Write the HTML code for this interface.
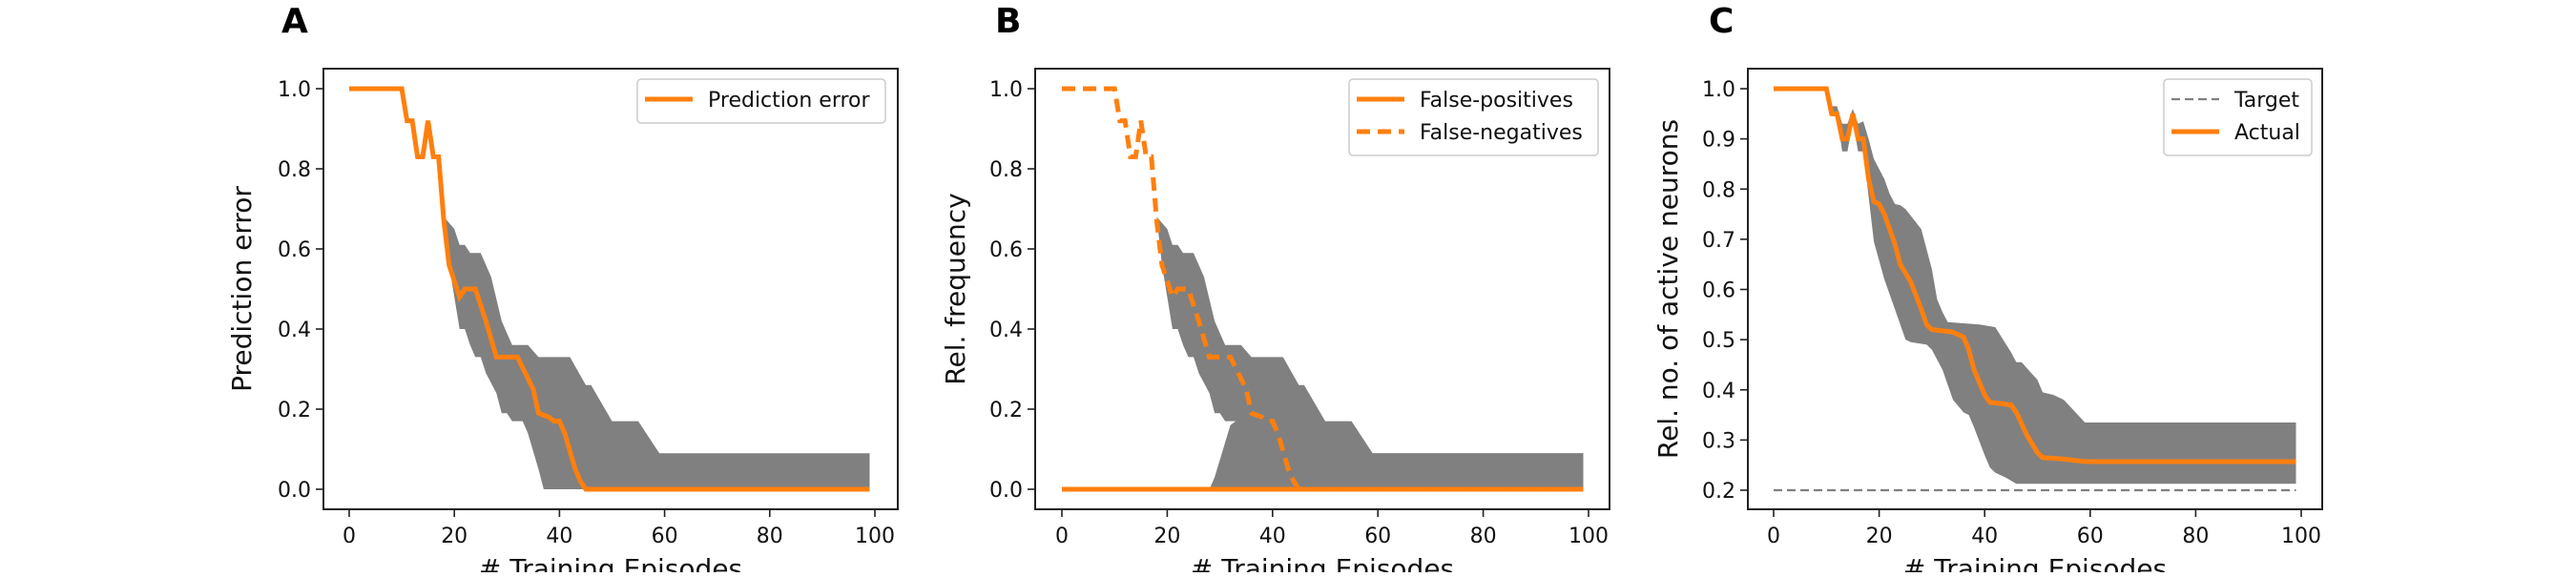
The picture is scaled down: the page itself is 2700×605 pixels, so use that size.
<!DOCTYPE html>
<html><head><meta charset="utf-8"><style>
html,body{margin:0;padding:0;background:#fff;}
svg text{font-family:"DejaVu Sans","Liberation Sans",sans-serif;}
</style></head><body>
<svg id="fig" width="2700" height="600" viewBox="0 0 2700 600" xmlns="http://www.w3.org/2000/svg"></svg>
<script>
// ---------- data ----------
const xTicks = [0, 20, 40, 60, 80, 100];
const yTicksAB = [0.0, 0.2, 0.4, 0.6, 0.8, 1.0];
const yTicksC = [0.2, 0.3, 0.4, 0.5, 0.6, 0.7, 0.8, 0.9, 1.0];

// Panel A: prediction error mean + band
const aMeanX = [0,10,11,12,13,14,15,16,17,18,19,21,22,24,26,28,32,35,36,38,39,40,41,43,44,45,99];
const aMeanY = [1,1,0.92,0.92,0.83,0.83,0.92,0.83,0.83,0.67,0.56,0.48,0.5,0.5,0.42,0.33,0.33,0.25,0.19,0.18,0.17,0.17,0.14,0.05,0.02,0,0];
const aHiX = [17,18,20,21,22,23,25,27,29,31,34,36,42,45,46,50,55,59,99];
const aHiY = [0.85,0.68,0.65,0.61,0.61,0.59,0.59,0.53,0.42,0.36,0.36,0.33,0.33,0.26,0.26,0.17,0.17,0.09,0.09];
const aLoX = [17,18,19,21,22,23,24,25,26,28,29,30,31,33,34,36,37,99];
const aLoY = [0.85,0.68,0.56,0.40,0.40,0.36,0.33,0.33,0.29,0.24,0.19,0.19,0.17,0.17,0.14,0.05,0,0];

// Panel B: false-positives (flat) + false-negatives
const bFpX = [0,99];
const bFpY = [0,0];
const bFpHiX = [0,28,29,32,33,40,45,99];
const bFpHiY = [0,0,0.03,0.16,0.17,0.17,0.09,0.09];
const bFnX = aMeanX.slice();
const bFnY = aMeanY.slice();

// Panel C: active neurons
const cMeanX = [0,10,11,12,13,14,15,16,17,18,19,20,21,23,24,26,28,29,30,34,36,37,38,40,41,45,46,48,50,51,55,59,99];
const cMeanY = [1,1,0.95,0.95,0.9,0.9,0.95,0.9,0.9,0.82,0.775,0.77,0.75,0.69,0.65,0.615,0.56,0.53,0.52,0.515,0.505,0.48,0.44,0.39,0.375,0.37,0.355,0.31,0.275,0.265,0.262,0.257,0.257];
const cHiX = [10,11,12,13,14,15,16,17,18,19,21,22,23,24,25,28,30,31,32,33,39,42,45,46,47,50,51,53,55,59,99];
const cHiY = [1,0.965,0.965,0.93,0.93,0.96,0.93,0.935,0.9,0.86,0.82,0.79,0.77,0.768,0.76,0.72,0.64,0.58,0.555,0.535,0.53,0.525,0.475,0.455,0.455,0.42,0.395,0.39,0.38,0.335,0.335];
const cLoX = [10,11,12,13,14,15,16,17,19,21,23,25,26,29,30,32,34,36,37,38,40,41,42,44,46,99];
const cLoY = [1,0.945,0.945,0.875,0.875,0.935,0.875,0.875,0.695,0.62,0.56,0.5,0.495,0.49,0.48,0.44,0.38,0.355,0.35,0.325,0.27,0.245,0.235,0.225,0.213,0.213];
const cTargetX = [0,99];
const cTargetY = [0.2,0.2];

// ---------- drawing ----------
const NS = "http://www.w3.org/2000/svg";
const svg = document.getElementById('fig');
const ORANGE = "#ff7f0e";
function mk(tag, attrs, parent){
  const e = document.createElementNS(NS, tag);
  for (const k in attrs) e.setAttribute(k, attrs[k]);
  (parent||svg).appendChild(e);
  return e;
}
function makeAxes(left, x0px, x100px, yA, yApx, yB, yBpx){
  const sx = v => x0px + (x100px - x0px) * v / 100;
  const sy = v => yApx + (yBpx - yApx) * (v - yA) / (yB - yA);
  return {sx, sy, left, right: left + 602, top: 72, bottom: 534};
}
function pts(ax, xs, ys){ return xs.map((x,i)=>ax.sx(x).toFixed(1)+","+ax.sy(ys[i]).toFixed(1)).join(" "); }
function band(g, ax, hx, hy, lx, ly, name){
  const up = hx.map((x,i)=>ax.sx(x).toFixed(1)+","+ax.sy(hy[i]).toFixed(1));
  const lo = lx.map((x,i)=>ax.sx(x).toFixed(1)+","+ax.sy(ly[i]).toFixed(1)).reverse();
  const p = mk('polygon', {points: up.concat(lo).join(" "), fill:"#808080", stroke:"none"}, g);
  
  
}
function line(g, ax, xs, ys, name, extra){
  const a = {points: pts(ax, xs, ys), fill:"none", stroke:ORANGE, "stroke-width":5, "stroke-linejoin":"miter"};
  Object.assign(a, extra||{});
  const p = mk('polyline', a, g);
  
  
}
function frame(g, ax, yTicks, fmt, ylabel, ylabX, letter, letterX, panel){
  const fr = mk('rect', {x:ax.left, y:ax.top, width:ax.right-ax.left, height:ax.bottom-ax.top, fill:"none", stroke:"#222", "stroke-width":2}, g);
  
  
  xTicks.forEach(t=>{
    const x = ax.sx(t);
    mk('line', {x1:x, x2:x, y1:ax.bottom, y2:ax.bottom+8, stroke:"#222", "stroke-width":1.6}, g);
    const tx = mk('text', {x:x, y:ax.bottom+35, "font-size":22, "text-anchor":"middle", fill:"#111"}, g);
    tx.textContent = t;
    
    
  });
  yTicks.forEach(t=>{
    const y = ax.sy(t);
    mk('line', {x1:ax.left-8, x2:ax.left, y1:y, y2:y, stroke:"#222", "stroke-width":1.6}, g);
    const tx = mk('text', {x:ax.left-13, y:y+8, "font-size":22, "text-anchor":"end", fill:"#111"}, g);
    tx.textContent = t.toFixed(fmt);
    
    
  });
  const xl = mk('text', {x:(ax.left+ax.right)/2, y:606, "font-size":28, "text-anchor":"middle", fill:"#111"}, g);
  xl.textContent = "# Training Episodes";
  
  
  const yl = mk('text', {x:ylabX, y:303, "font-size":28, "text-anchor":"middle", fill:"#111", transform:"rotate(-90 "+ylabX+" 303)"}, g);
  yl.textContent = ylabel;
  
  
  const lt = mk('text', {x:letterX, y:34, "font-size":36, "font-weight":"bold", fill:"#000"}, g);
  lt.textContent = letter;
  
  
}
function legend(g, x, y, w, entries, panel){
  const h = 12 + entries.length*34;
  const bx = mk('rect', {x:x, y:y, width:w, height:h, rx:4, fill:"#fff", "fill-opacity":0.8, stroke:"#ccc", "stroke-width":1.5}, g);
  
  
  entries.forEach((e,i)=>{
    const cy = y + 21 + i*34;
    mk('line', {x1:x+8, x2:x+58, y1:cy, y2:cy, stroke:e.color, "stroke-width":e.w, "stroke-dasharray":e.dash||"none"}, g);
    const t = mk('text', {x:x+74, y:cy+8, "font-size":22, fill:"#111"}, g);
    t.textContent = e.label;
    
    
  });
}

// Panel A
const gA = mk('g', {});  
const axA = makeAxes(339, 366, 917, 0, 513, 1, 93);
band(gA, axA, aHiX, aHiY, aLoX, aLoY, 'prediction-error-band');
line(gA, axA, aMeanX, aMeanY, 'prediction-error-line');
frame(gA, axA, yTicksAB, 1, "Prediction error", 263, "A", 295, 'panel-a');
legend(gA, 668, 83, 260, [{label:"Prediction error", color:ORANGE, w:5}], 'panel-a');

// Panel B
const gB = mk('g', {});  
const axB = makeAxes(1085, 1113, 1665, 0, 513, 1, 93);
band(gB, axB, aHiX, aHiY, aLoX, aLoY, 'false-negatives-band');
band(gB, axB, bFpHiX, bFpHiY, bFpX, bFpY, 'false-positives-band');
line(gB, axB, bFpX, bFpY, 'false-positives-line');
line(gB, axB, bFnX, bFnY, 'false-negatives-line', {"stroke-dasharray":"14,8"});
frame(gB, axB, yTicksAB, 1, "Rel. frequency", 1011, "B", 1043, 'panel-b');
legend(gB, 1414, 83, 261, [{label:"False-positives", color:ORANGE, w:5},{label:"False-negatives", color:ORANGE, w:5, dash:"14,8"}], 'panel-b');

// Panel C
const gC = mk('g', {});  
const axC = makeAxes(1832, 1859, 2412, 0.2, 514, 1, 93);
band(gC, axC, cHiX, cHiY, cLoX, cLoY, 'active-neurons-band');
const tg = mk('polyline', {points: pts(axC, cTargetX, cTargetY), fill:"none", stroke:"#808080", "stroke-width":2.2, "stroke-dasharray":"9,5"}, gC);


line(gC, axC, cMeanX, cMeanY, 'actual-line');
frame(gC, axC, yTicksC, 1, "Rel. no. of active neurons", 1758, "C", 1791, 'panel-c');
legend(gC, 2268, 83, 155, [{label:"Target", color:"#808080", w:2.2, dash:"9,5"},{label:"Actual", color:ORANGE, w:5}], 'panel-c');
</script>
</body></html>
